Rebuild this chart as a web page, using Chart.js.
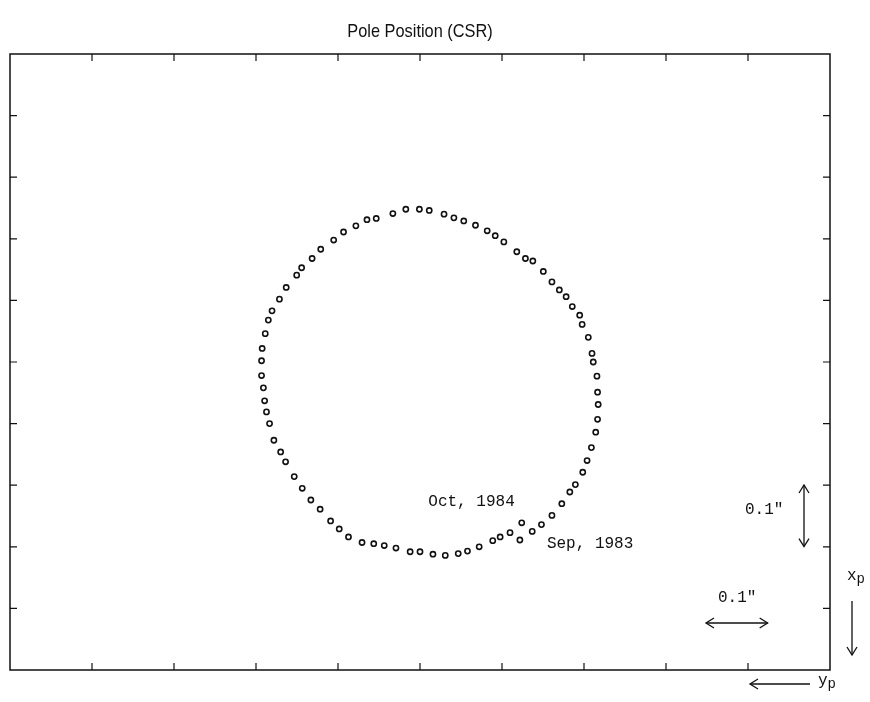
<!DOCTYPE html>
<html>
<head>
<meta charset="utf-8">
<title>Pole Position (CSR)</title>
<script src="https://cdn.jsdelivr.net/npm/chart.js@4/dist/chart.umd.min.js"></script>
<style>
  html, body { margin: 0; padding: 0; background: #fff; }
  #wrap { width: 870px; height: 702px; position: relative; }
</style>
</head>
<body>
<div id="wrap"><canvas id="poleChart"></canvas></div>
<script>
// CSR pole path, Sep 1983 -> Oct 1984, arcseconds
const ypValues = [
  0.153, 0.133, 0.118, 0.101, 0.085, 0.072, 0.063, 0.051, 0.044, 0.037,
  0.030, 0.027, 0.026, 0.027, 0.028, 0.034, 0.036, 0.042, 0.052, 0.056,
  0.068, 0.078, 0.089, 0.101, 0.115, 0.132, 0.144, 0.158, 0.179, 0.193,
  0.206, 0.225, 0.244, 0.260, 0.276, 0.300, 0.316, 0.338, 0.359, 0.386,
  0.401, 0.419, 0.439, 0.455, 0.476, 0.490, 0.507, 0.515, 0.532, 0.543,
  0.555, 0.561, 0.566, 0.571, 0.572, 0.572, 0.569, 0.567, 0.564, 0.559,
  0.552, 0.541, 0.533, 0.519, 0.506, 0.492, 0.477, 0.460, 0.446, 0.431,
  0.409, 0.390, 0.373, 0.354, 0.331, 0.315, 0.294, 0.274, 0.253, 0.238,
  0.219, 0.197, 0.185, 0.169, 0.150
];
const xpValues = [
  0.289, 0.275, 0.264, 0.249, 0.230, 0.211, 0.199, 0.179, 0.160, 0.139,
  0.114, 0.093, 0.069, 0.049, 0.023, 0.000, -0.014, -0.040, -0.061, -0.076,
  -0.090, -0.106, -0.117, -0.130, -0.147, -0.164, -0.168, -0.179, -0.195, -0.205,
  -0.213, -0.222, -0.229, -0.234, -0.240, -0.246, -0.248, -0.248, -0.241, -0.233,
  -0.231, -0.221, -0.211, -0.198, -0.183, -0.168, -0.153, -0.141, -0.121, -0.102,
  -0.083, -0.068, -0.046, -0.022, -0.002, 0.022, 0.042, 0.063, 0.081, 0.100,
  0.127, 0.146, 0.162, 0.186, 0.205, 0.224, 0.239, 0.258, 0.271, 0.284,
  0.293, 0.295, 0.298, 0.302, 0.308, 0.308, 0.312, 0.314, 0.311, 0.307,
  0.300, 0.290, 0.284, 0.277, 0.261
];
const firstLabel = 'Sep, 1983';
const lastLabel = 'Oct, 1984';
const scaleBarValue = 0.1;
const scaleBarText = '0.1"';

// y_p runs to the left, x_p runs downward
const ypRange = [-0.35, 0.98];
const xpRange = [-0.5, 0.5];

const MONO = '16px "Liberation Mono", "DejaVu Sans Mono", monospace';

function arrowHead(ctx, x, y, dx, dy) {
  // open V-shaped head pointing along (dx, dy)
  const len = 8, spread = 5;
  ctx.beginPath();
  ctx.moveTo(x - dx * len + dy * spread, y - dy * len + dx * spread);
  ctx.lineTo(x, y);
  ctx.lineTo(x - dx * len - dy * spread, y - dy * len - dx * spread);
  ctx.stroke();
}

function arrowLine(ctx, x1, y1, x2, y2, both) {
  ctx.beginPath();
  ctx.moveTo(x1, y1);
  ctx.lineTo(x2, y2);
  ctx.stroke();
  const d = Math.hypot(x2 - x1, y2 - y1);
  const dx = (x2 - x1) / d, dy = (y2 - y1) / d;
  arrowHead(ctx, x2, y2, dx, dy);
  if (both) arrowHead(ctx, x1, y1, -dx, -dy);
}

function subLabel(ctx, main, sub, x, y) {
  ctx.textAlign = 'left';
  ctx.font = MONO;
  ctx.fillText(main, x, y);
  const w = ctx.measureText(main).width;
  ctx.font = '14px "Liberation Mono", "DejaVu Sans Mono", monospace';
  ctx.fillText(sub, x + w, y + 3);
}

// frame, inward ticks and the annotations
const framePlugin = {
  id: 'poleFrame',
  afterDraw(chart) {
    const { ctx, chartArea: a, scales } = chart;
    const sx = scales.x, sy = scales.y;
    ctx.save();
    ctx.strokeStyle = '#111';
    ctx.fillStyle = '#111';

    ctx.lineWidth = 1.5;
    ctx.strokeRect(a.left, a.top, a.right - a.left, a.bottom - a.top);

    ctx.lineWidth = 1.2;
    const tl = 7;
    sx.ticks.forEach(t => {
      const px = sx.getPixelForValue(t.value);
      if (px <= a.left + 1 || px >= a.right - 1) return;
      ctx.beginPath();
      ctx.moveTo(px, a.top); ctx.lineTo(px, a.top + tl);
      ctx.moveTo(px, a.bottom); ctx.lineTo(px, a.bottom - tl);
      ctx.stroke();
    });
    sy.ticks.forEach(t => {
      const py = sy.getPixelForValue(t.value);
      if (py <= a.top + 1 || py >= a.bottom - 1) return;
      ctx.beginPath();
      ctx.moveTo(a.left, py); ctx.lineTo(a.left + tl, py);
      ctx.moveTo(a.right, py); ctx.lineTo(a.right - tl, py);
      ctx.stroke();
    });

    // title, squeezed horizontally to get the narrow face
    ctx.save();
    ctx.translate((a.left + a.right) / 2, 37);
    ctx.scale(0.86, 1);
    ctx.font = '19px "Liberation Sans", Arial, sans-serif';
    ctx.textAlign = 'center';
    ctx.textBaseline = 'alphabetic';
    ctx.fillText('Pole Position (CSR)', 0, 0);
    ctx.restore();

    // start and end dates next to their points
    const n = ypValues.length;
    const p0x = sx.getPixelForValue(ypValues[0]), p0y = sy.getPixelForValue(xpValues[0]);
    const p1x = sx.getPixelForValue(ypValues[n - 1]), p1y = sy.getPixelForValue(xpValues[n - 1]);
    ctx.font = MONO;
    ctx.textAlign = 'left';
    ctx.fillText(firstLabel, p0x + 27, p0y + 8);
    ctx.textAlign = 'right';
    ctx.fillText(lastLabel, p1x - 7, p1y - 17);

    // 0.1" scale bars, length taken from the scales
    ctx.lineWidth = 1.3;
    const barV = Math.abs(sy.getPixelForValue(scaleBarValue) - sy.getPixelForValue(0));
    const barH = Math.abs(sx.getPixelForValue(scaleBarValue) - sx.getPixelForValue(0));
    arrowLine(ctx, 804, 485, 804, 485 + barV, true);
    arrowLine(ctx, 706, 623, 706 + barH, 623, true);
    ctx.font = MONO;
    ctx.textAlign = 'left';
    ctx.fillText(scaleBarText, 745, 514);
    ctx.fillText(scaleBarText, 718, 602);

    // axis directions
    subLabel(ctx, 'x', 'p', 847, 580);
    arrowLine(ctx, 852, 601, 852, 655, false);
    arrowLine(ctx, 810, 684, 750, 684, false);
    subLabel(ctx, 'y', 'p', 818, 685);

    ctx.restore();
  }
};

const points = ypValues.map((v, i) => ({ x: v, y: xpValues[i] }));

new Chart(document.getElementById('poleChart'), {
  type: 'scatter',
  data: {
    datasets: [{
      label: 'CSR pole',
      data: points,
      pointStyle: 'circle',
      pointRadius: 2.6,
      pointBorderWidth: 1.6,
      pointBorderColor: '#111',
      pointBackgroundColor: '#fff',
      showLine: false
    }]
  },
  options: {
    responsive: true,
    maintainAspectRatio: false,
    animation: false,
    layout: { padding: { left: 10, top: 54, right: 40, bottom: 32 } },
    plugins: {
      legend: { display: false },
      title: { display: false },
      tooltip: { enabled: false }
    },
    scales: {
      x: {
        type: 'linear',
        display: false,
        reverse: true,
        min: ypRange[0],
        max: ypRange[1],
        ticks: { count: 11 }
      },
      y: {
        type: 'linear',
        display: false,
        reverse: true,
        min: xpRange[0],
        max: xpRange[1],
        ticks: { stepSize: 0.1 }
      }
    }
  },
  plugins: [framePlugin]
});
</script>
</body>
</html>
